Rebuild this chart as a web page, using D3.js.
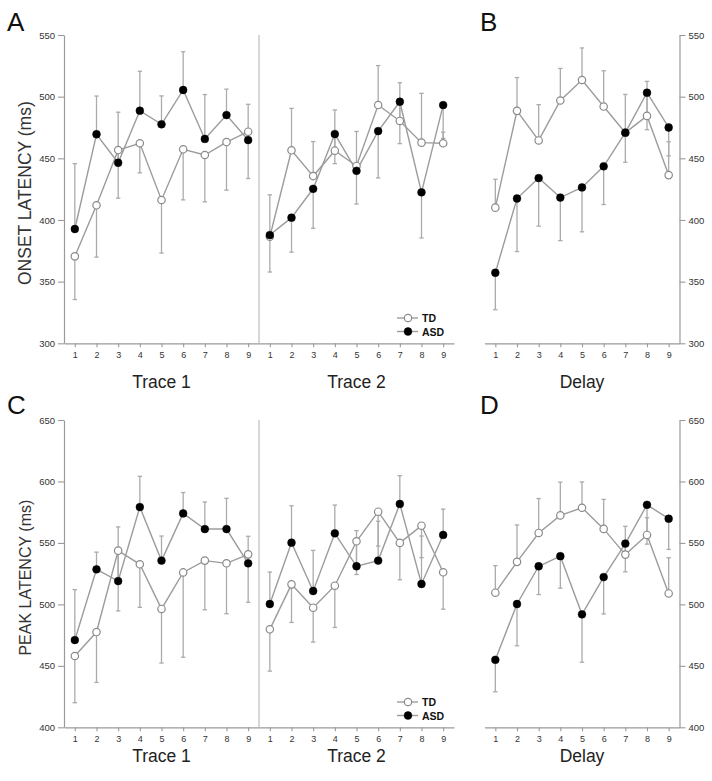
<!DOCTYPE html>
<html><head><meta charset="utf-8">
<script src="https://cdn.jsdelivr.net/npm/d3@7"></script>
<style>
body{margin:0;background:#fff}
text{font-family:Arial,"Liberation Sans",sans-serif}
</style>
</head><body><svg id="c" width="712" height="781"></svg>
<script>
// ---------- data ----------
const xCategories = [1,2,3,4,5,6,7,8,9];
const onsetTicks = [300,350,400,450,500,550];
const peakTicks  = [400,450,500,550,600,650];
const sectionTitles = ["Trace 1","Trace 2","Delay"];
const seriesNames = ["TD","ASD"];

// Onset latency (ms)
const onsetTrace1TD  = [370.5,411.9,456.7,462.2,416.2,457.3,452.7,463.2,471.6];
const onsetTrace1ASD = [392.7,469.5,446.4,488.6,477.6,505.4,465.7,485.1,464.8];
const onsetTrace1TDErr  = [35,42,39,24,43,41,38,39,38];
const onsetTrace1ASDErr = [53,31,41,32,23,31,36,21,29];

const onsetTrace2TD  = [386.4,456.5,435.6,456.2,443.8,493.2,480.3,462.7,462.2];
const onsetTrace2ASD = [387.8,401.9,425.3,469.7,439.9,472.1,495.9,422.4,493.2];
const onsetTrace2TDErr  = [34,34,28,33,28,32,31,40,9];
const onsetTrace2ASDErr = [30,28,32,24,27,38,34,37,27];

const onsetDelayTD  = [410,488.5,464.5,496.9,513.5,492,470.8,484.4,436.4];
const onsetDelayASD = [357.2,417.4,434,418.2,426.4,443.5,470.8,503.2,475];
const onsetDelayTDErr  = [23,27,29,26,26,29,31,28,27];
const onsetDelayASDErr = [30,43,39,35,36,31,24,30,23];

// Peak latency (ms)
const peakTrace1TD  = [458,477.5,543.7,532.6,496.3,526,535.6,533.4,540.7];
const peakTrace1ASD = [471,528.5,519,579.2,535.6,574,561.3,561.3,533.4];
const peakTrace1TDErr  = [38,41,49,35,44,69,40,41,39];
const peakTrace1ASDErr = [41,14,44,25,20,17,22,25,22];

const peakTrace2TD  = [479.7,516.3,497.3,515.2,551.3,575.4,550,564,526.1];
const peakTrace2ASD = [500.3,550.2,510.9,557.8,531,535.6,581.7,516.6,556.5];
const peakTrace2TDErr  = [34,31,28,34,27,28,30,26,30];
const peakTrace2ASDErr = [26,30,33,23,29,32,23,39,21];

const peakDelayTD  = [509.5,534.6,558.1,572.4,578.6,561.4,540.5,556.5,508.9];
const peakDelayASD = [454.9,500.3,531,539.2,491.9,522.2,549.5,581,569.7];
const peakDelayTDErr  = [22,30,28,27,21,24,23,14,29];
const peakDelayASDErr = [26,34,23,26,39,30,23,32,25];

// error-bar direction per section (+1 up, -1 down) [TD, ASD]
const errDirs = {
  onsetTrace1:[-1,1], onsetTrace2:[1,-1], onsetDelay:[1,-1],
  peakTrace1:[-1,1],  peakTrace2:[-1,1],  peakDelay:[1,-1]
};

// ---------- drawing ----------
const svg = d3.select("#c");
const AX = "#9a9a9a", LINE = "#9c9c9c", ERR = "#ababab", TXT = "#333";

const rows = [
  {ticks:onsetTicks, top:35, bottom:343.3, label:"ONSET LATENCY (ms)", labelSize:17.5, titleY:388, letters:["A","B"], letterY:31,
   sections:[
     {td:onsetTrace1TD, asd:onsetTrace1ASD, tdE:onsetTrace1TDErr, asdE:onsetTrace1ASDErr, dir:errDirs.onsetTrace1},
     {td:onsetTrace2TD, asd:onsetTrace2ASD, tdE:onsetTrace2TDErr, asdE:onsetTrace2ASDErr, dir:errDirs.onsetTrace2},
     {td:onsetDelayTD, asd:onsetDelayASD, tdE:onsetDelayTDErr, asdE:onsetDelayASDErr, dir:errDirs.onsetDelay}],
   legendY:318},
  {ticks:peakTicks, top:420, bottom:727.3, label:"PEAK LATENCY (ms)", labelSize:16, titleY:762, letters:["C","D"], letterY:414,
   sections:[
     {td:peakTrace1TD, asd:peakTrace1ASD, tdE:peakTrace1TDErr, asdE:peakTrace1ASDErr, dir:errDirs.peakTrace1},
     {td:peakTrace2TD, asd:peakTrace2ASD, tdE:peakTrace2TDErr, asdE:peakTrace2ASDErr, dir:errDirs.peakTrace2},
     {td:peakDelayTD, asd:peakDelayASD, tdE:peakDelayTDErr, asdE:peakDelayASDErr, dir:errDirs.peakDelay}],
   legendY:702}
];
const xRanges = [[64,259],[259,454],[484.5,679.5]];

function styleAxis(g){
  g.selectAll("path.domain").attr("stroke",AX).attr("stroke-width",1.2);
  g.selectAll(".tick line").attr("stroke",AX).attr("stroke-width",1.1);
  g.selectAll(".tick text").attr("fill",TXT).style("font-size","9.5px").style("font-family","Arial, 'Liberation Sans', sans-serif");
}

rows.forEach(row=>{
  const y = d3.scaleLinear().domain([row.ticks[0], row.ticks[row.ticks.length-1]]).range([row.bottom,row.top]);
  const g = svg.append("g");

  const yl = g.append("g").attr("transform",`translate(${xRanges[0][0]},0)`)
    .call(d3.axisLeft(y).tickValues(row.ticks).tickSize(6).tickSizeOuter(0).tickPadding(3));
  styleAxis(yl);
  const yr = g.append("g").attr("transform",`translate(${xRanges[2][1]},0)`)
    .call(d3.axisRight(y).tickValues(row.ticks).tickSize(6).tickSizeOuter(0).tickPadding(3));
  styleAxis(yr);

  g.append("line").attr("x1",xRanges[0][1]).attr("x2",xRanges[0][1])
    .attr("y1",row.top).attr("y2",row.bottom).attr("stroke","#bdbdbd").attr("stroke-width",1.2);

  row.sections.forEach((s,i)=>{
    const x = d3.scaleLinear().domain([0.5,9.5]).range(xRanges[i]);
    const xa = g.append("g").attr("transform",`translate(0,${row.bottom})`)
      .call(d3.axisBottom(x).tickValues(xCategories).tickSize(4).tickSizeOuter(0).tickPadding(4));
    styleAxis(xa);
    xa.selectAll(".tick text").style("font-size","9px");

    g.append("text").attr("x",(x(1)+x(9))/2).attr("y",row.titleY).attr("text-anchor","middle")
      .attr("fill","#222").style("font-size","17.5px").text(sectionTitles[i]);

    const series = [
      {vals:s.td, errs:s.tdE, dir:s.dir[0], open:true},
      {vals:s.asd, errs:s.asdE, dir:s.dir[1], open:false}
    ];
    series.forEach(se=>{
      const eg = g.append("g").attr("stroke",ERR).attr("stroke-width",1.3);
      se.vals.forEach((v,k)=>{
        const cx = x(xCategories[k]);
        const ye = y(v + se.dir*se.errs[k]);
        eg.append("line").attr("x1",cx).attr("x2",cx).attr("y1",y(v)).attr("y2",ye);
        eg.append("line").attr("x1",cx-2.2).attr("x2",cx+2.2).attr("y1",ye).attr("y2",ye);
      });
    });
    const line = d3.line().x((d,k)=>x(xCategories[k])).y(d=>y(d));
    series.forEach(se=>{
      g.append("path").datum(se.vals).attr("d",line).attr("fill","none")
        .attr("stroke",LINE).attr("stroke-width",1.4);
    });
    series.forEach(se=>{
      g.append("g").selectAll("circle").data(se.vals).join("circle")
        .attr("cx",(d,k)=>x(xCategories[k])).attr("cy",d=>y(d))
        .attr("r",se.open?3.7:3.9)
        .attr("fill",se.open?"#fff":"#000")
        .attr("stroke",se.open?"#8a8a8a":"#000").attr("stroke-width",se.open?1.2:0.5);
    });
  });

  const cy = (row.top+row.bottom)/2 + 4;
  g.append("text").attr("transform",`translate(31,${cy}) rotate(-90)`).attr("text-anchor","middle")
    .attr("fill","#333").style("font-size",row.labelSize+"px").text(row.label);

  g.append("text").attr("x",7).attr("y",row.letterY).style("font-size","26px").attr("fill","#111").text(row.letters[0]);
  g.append("text").attr("x",480).attr("y",row.letterY).style("font-size","26px").attr("fill","#111").text(row.letters[1]);

  seriesNames.forEach((nm,k)=>{
    const ly = row.legendY + k*13.5;
    g.append("line").attr("x1",397).attr("x2",418).attr("y1",ly).attr("y2",ly).attr("stroke",LINE).attr("stroke-width",1.4);
    g.append("circle").attr("cx",408).attr("cy",ly).attr("r",k===0?3.7:3.9)
      .attr("fill",k===0?"#fff":"#000").attr("stroke",k===0?"#8a8a8a":"#000").attr("stroke-width",k===0?1.2:0.5);
    g.append("text").attr("x",422).attr("y",ly+4).style("font-size","10.5px").style("font-weight","bold")
      .attr("fill","#111").text(nm);
  });
});
</script>
</body></html>
